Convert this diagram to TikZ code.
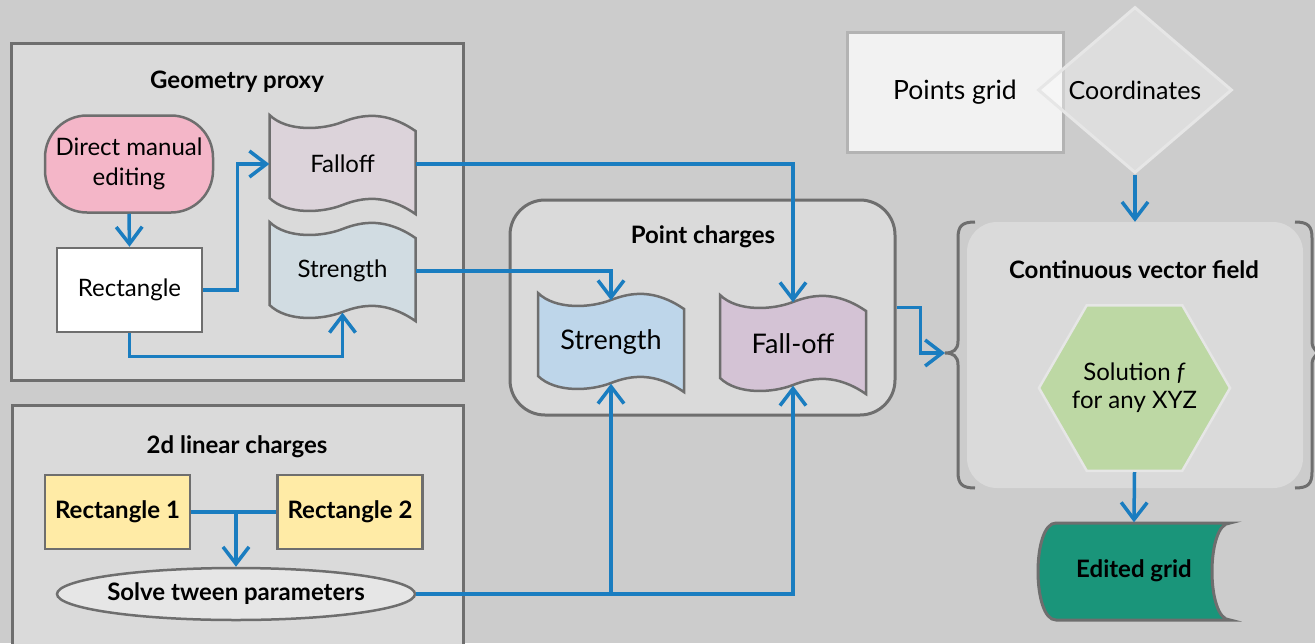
\documentclass[tikz,border=0pt]{standalone}
\usepackage{fontspec}
\setmainfont{Lato}
\usepackage{tikz}
\usetikzlibrary{arrows.meta,shapes.geometric}
\definecolor{graybg}{HTML}{CCCCCC}
\definecolor{graypanel}{HTML}{DADADA}
\definecolor{grayedge}{HTML}{6E6E6E}
\definecolor{graylight}{HTML}{E6E6E6}
\definecolor{grayrule}{HTML}{B3B3B3}
\definecolor{graywhite}{HTML}{F2F2F2}
\definecolor{blueflow}{HTML}{1A7DC0}
\definecolor{pinkstart}{HTML}{F4B6C8}
\definecolor{mauvemuted}{HTML}{DCD3DA}
\definecolor{bluemuted}{HTML}{D1DCE2}
\definecolor{bluetape}{HTML}{BED6EA}
\definecolor{mauvetape}{HTML}{D4C3D5}
\definecolor{yellowbox}{HTML}{FFEBA6}
\definecolor{greenhex}{HTML}{BDD8A4}
\definecolor{tealstore}{HTML}{1A957A}
\tikzset{every node/.append style={font=\fontsize{24}{30}\selectfont}}
% wavy tape outline round a centre point
\newcommand\tapeshape[3]{%
  \draw[draw=grayedge,line width=2.5pt,fill=#3,shift={(#1,#2)}]
    (-73,-49) .. controls (-55.5,-32) and (-20.4,-34) .. (0,-42)
    .. controls (20.4,-50) and (43.8,-53) .. (73,-33) -- (73,50)
    .. controls (43.8,30) and (20.4,33) .. (0,41)
    .. controls (-20.4,49) and (-55.5,51) .. (-73,34) -- cycle;}

\begin{document}
\begin{tikzpicture}[>={Straight Barb[length=17pt,width=26pt]},x=1pt,y=-1pt,
  panel/.style={draw=grayedge,line width=3pt,fill=graypanel},
  box/.style={draw=grayedge,line width=2.5pt,minimum width=145pt},
  tapebox/.style={minimum width=146pt,minimum height=83pt},
  heading/.style={font=\fontsize{24}{30}\selectfont\bfseries},
  flow/.style={->,blueflow,line width=3.5pt}]
  % pixel grid of the 1315x643 sheet, y runs downwards
  \useasboundingbox (0,0) rectangle (1315,643);
  \clip (0,0) rectangle (1315,643);
  \fill[graybg] (0,0) rectangle (1315,643);

  % geometry proxy
  \node[panel,minimum width=452pt,minimum height=337pt] (proxybox) at (237,211.5) {};
  \node[heading] (proxytitle) at (237,82) {Geometry proxy};
  \node[draw=grayedge,line width=2.5pt,fill=pinkstart,rounded corners=42pt,
    minimum width=168pt,minimum height=97pt,align=center,text depth=4pt] (manual) at (129,164)
    {Direct manual\\editing};
  \node[box,fill=white,minimum height=84pt] (rect) at (129.5,290) {Rectangle};
  \tapeshape{342.5}{164}{mauvemuted}
  \node[tapebox] (proxyfall) at (342.5,164) {Falloff};
  \tapeshape{342.5}{271}{bluemuted}
  \node[tapebox] (proxystr) at (342.5,271) {Strength};

  % 2d linear charges
  \node[panel,minimum width=451pt,minimum height=255pt] (linearbox) at (237.5,532.5) {};
  \node[heading] (lineartitle) at (237,447) {2d linear charges};
  \node[box,heading,fill=yellowbox,minimum height=74pt] (rectone) at (117.5,512) {Rectangle 1};
  \node[box,heading,fill=yellowbox,minimum height=74pt] (recttwo) at (350,512) {Rectangle 2};
  \node[ellipse,heading,draw=grayedge,line width=2.5pt,fill=graylight,inner xsep=-2.5pt,
    inner ysep=0pt,minimum width=358pt,minimum height=52pt] (solve) at (236,594)
    {Solve tween parameters};

  % point charges
  \node[panel,rounded corners=35pt,minimum width=385pt,minimum height=215pt] (chargebox)
    at (702.5,307.5) {};
  \node[heading] (chargetitle) at (703,237) {Point charges};
  \tapeshape{611}{342}{bluetape}
  \node[tapebox,font=\fontsize{27}{30}\selectfont] (chargestr) at (611,342) {Strength};
  \tapeshape{793}{344}{mauvetape}
  \node[tapebox,font=\fontsize{27}{30}\selectfont] (chargefall) at (793,344) {Fall-off};

  % grid input
  \node[draw=grayrule,line width=3pt,fill=graywhite,minimum width=216pt,minimum height=120pt,
    font=\fontsize{26.5}{30}\selectfont] (grid) at (955,92) {Points grid};
  \node[diamond,draw=graylight,line width=3pt,fill=white,fill opacity=.35,text opacity=1,
    aspect=1.2,minimum width=194pt,minimum height=166pt,font=\fontsize{25}{30}\selectfont]
    (coords) at (1135,90) {Coordinates};

  % continuous vector field
  \node[fill=graypanel,rounded corners=30pt,minimum width=336pt,minimum height=266pt]
    (field) at (1135,355) {};
  \draw[grayedge,line width=3pt] (975,222) .. controls (962,222) and (958,226) .. (958,238)
    -- (958,341) .. controls (958,350) and (953,353) .. (945,353)
    .. controls (953,353) and (958,356) .. (958,365) -- (958,472)
    .. controls (958,484) and (962,488) .. (975,488);
  \draw[grayedge,line width=3pt] (1295,222) .. controls (1308,222) and (1312,226) .. (1312,238)
    -- (1312,341) .. controls (1312,350) and (1317,353) .. (1325,353)
    .. controls (1317,353) and (1312,356) .. (1312,365) -- (1312,472)
    .. controls (1312,484) and (1308,488) .. (1295,488);
  \coordinate (fieldtip) at (945,353);
  \node[heading] (fieldtitle) at (1134,270) {Continuous vector field};
  \node[regular polygon,regular polygon sides=6,draw=graylight,line width=2.5pt,fill=greenhex,
    minimum size=180pt,inner sep=-4pt,align=center,font=\fontsize{24}{28}\selectfont]
    (solution) at (1134.5,388) {Solution \textit{f}\\for any XYZ};

  % stored result
  \draw[grayedge,line width=3pt,fill=tealstore] (1230,523) -- (1056,523)
    .. controls (1032,523) and (1032,620) .. (1056,620) -- (1230,620)
    .. controls (1206,620) and (1206,523) .. cycle;
  \node[heading,minimum width=192pt,minimum height=97pt,text depth=5pt] (edited)
    at (1134,571) {Edited grid};

  % connectors
  \draw[flow] (manual.south) -- (rect.north);
  \draw[flow] (rect.east) -- ++(34,0) |- (proxyfall.west);
  \draw[flow] (rect.south) -- ++(0,23) -| (proxystr.south);
  \draw[flow] (proxyfall.east) -| (chargefall.north);
  \draw[flow] (proxystr.east) -| (chargestr.north);
  \draw[flow] (chargebox.east) -- ++(24,0) |- (fieldtip);
  \draw[flow] (coords.south) -- (field.north);
  \draw[flow] (solution.south) -- (edited.north);
  \draw[blueflow,line width=3.5pt] (rectone.east) -- (recttwo.west);
  \draw[flow] (solve.north |- rectone.east) -- (solve.north);
  \draw[flow] (solve.east) -| (chargestr.south);
  \draw[flow] (solve.east) -| (chargefall.south);
\end{tikzpicture}
\end{document}
